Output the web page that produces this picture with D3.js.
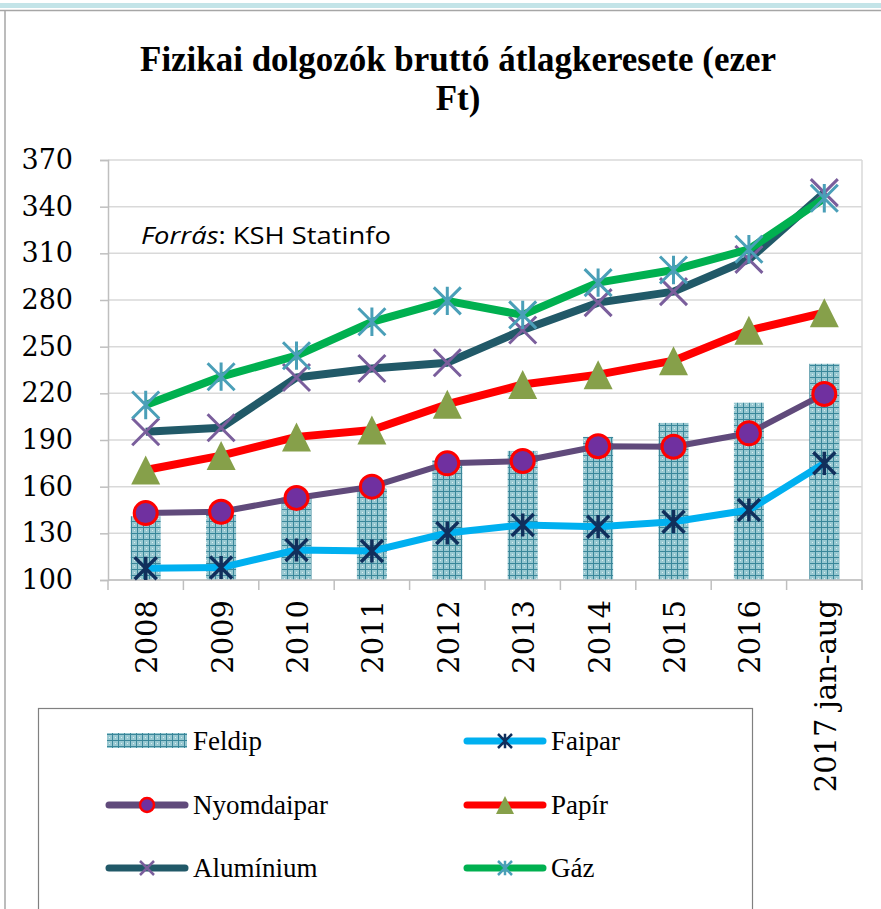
<!DOCTYPE html>
<html>
<head>
<meta charset="utf-8">
<script src="https://cdn.jsdelivr.net/npm/d3@7"></script>
<style>
  body { margin: 0; background: #fff; }
  svg { display: block; }
</style>
</head>
<body>
<script>
// chart data
const categories = ["2008", "2009", "2010", "2011", "2012", "2013", "2014", "2015", "2016", "2017 jan-aug"];
const feldip = [141, 142, 153, 159, 177, 183, 192, 201, 214, 239];
const faipar = [107.5, 108, 119.3, 118.6, 130.2, 135.4, 134.3, 137.5, 145, 175];
const nyomdaipar = [143, 143.9, 152.7, 160, 175, 176.5, 186, 185.7, 194.3, 219.6];
const papir = [170.7, 180, 192, 196.4, 213, 225.7, 232, 241, 260.5, 271.8];
const aluminium = [195.3, 197.9, 230.2, 236, 239.7, 260.7, 278.3, 285.4, 306.1, 349];
const gaz = [212.5, 230.7, 244.2, 266, 279.4, 270.4, 291.2, 299.3, 312.6, 345.4];
const yTicks = [100, 130, 160, 190, 220, 250, 280, 310, 340, 370];

const W = 881, H = 909;
const plot = { left: 108, right: 862, top: 160, bottom: 580 };

const svg = d3.select("body").append("svg")
  .attr("width", W)
  .attr("height", H);

// bar fill pattern (small grid like in excel)
const defs = svg.append("defs");
const pat = defs.append("pattern")
  .attr("id", "grid")
  .attr("width", 6)
  .attr("height", 6)
  .attr("patternUnits", "userSpaceOnUse");
pat.append("rect").attr("width", 6).attr("height", 6).attr("fill", "#98c8d1");
pat.append("rect").attr("x", 2).attr("y", 2).attr("width", 1).attr("height", 1).attr("fill", "#d8eef1");
pat.append("rect").attr("x", 0).attr("y", 5).attr("width", 6).attr("height", 1).attr("fill", "#3a879a");
pat.append("rect").attr("x", 5).attr("y", 0).attr("width", 1).attr("height", 6).attr("fill", "#3a879a");

// page frame
svg.append("rect").attr("x", 0).attr("y", 3).attr("width", W).attr("height", 5).attr("fill", "#c3e4e8");
svg.append("line").attr("x1", 0).attr("x2", W).attr("y1", 10.5).attr("y2", 10.5)
  .attr("stroke", "#a6a6a6").attr("stroke-width", 1.5);
svg.append("line").attr("x1", 5).attr("x2", 5).attr("y1", 10).attr("y2", H)
  .attr("stroke", "#a6a6a6").attr("stroke-width", 1.5);

const x = d3.scaleBand()
  .domain(categories)
  .range([plot.left, plot.right]);
const y = d3.scaleLinear()
  .domain([100, 370])
  .range([plot.bottom, plot.top]);
const cx = d => x(d) + x.bandwidth() / 2;

// title, squeezed horizontally like the reference
const title = svg.append("g").attr("transform", "translate(458,0)");
const t1 = title.append("text")
  .attr("y", 71)
  .attr("text-anchor", "middle")
  .attr("font-family", "Liberation Serif")
  .attr("font-weight", "bold")
  .attr("font-size", 35)
  .text("Fizikai dolgozók bruttó átlagkeresete (ezer");
title.append("text")
  .attr("y", 110)
  .attr("text-anchor", "middle")
  .attr("font-family", "Liberation Serif")
  .attr("font-weight", "bold")
  .attr("font-size", 35)
  .text("Ft)");
const sx = 636 / t1.node().getComputedTextLength();
title.attr("transform", `translate(458,0) scale(${sx},1)`);

// gridlines
svg.append("g")
  .selectAll("line")
  .data(yTicks)
  .join("line")
  .attr("x1", plot.left)
  .attr("x2", plot.right)
  .attr("y1", d => y(d))
  .attr("y2", d => y(d))
  .attr("stroke", "#d9d9d9")
  .attr("stroke-width", 1.5);

// y axis
const yAxis = svg.append("g")
  .attr("transform", `translate(${plot.left},0)`)
  .call(d3.axisLeft(y).tickValues(yTicks).tickSize(8).tickPadding(27));
yAxis.select(".domain").attr("stroke", "#bfbfbf").attr("stroke-width", 1.5);
yAxis.selectAll(".tick line").attr("stroke", "#bfbfbf").attr("stroke-width", 1.5);
yAxis.selectAll(".tick text")
  .attr("font-family", "DejaVu Serif")
  .attr("font-size", 27)
  .attr("fill", "#000");

// right edge of plot
svg.append("line")
  .attr("x1", plot.right).attr("x2", plot.right)
  .attr("y1", plot.top).attr("y2", plot.bottom + 10)
  .attr("stroke", "#d9d9d9").attr("stroke-width", 1.5);

// bars
svg.append("g")
  .selectAll("rect")
  .data(feldip)
  .join("rect")
  .attr("x", (d, i) => cx(categories[i]) - 15)
  .attr("width", 30)
  .attr("y", d => y(d))
  .attr("height", d => y(100) - y(d))
  .attr("fill", "url(#grid)");

// x axis: line, ticks between categories, rotated labels
const xAxis = svg.append("g");
xAxis.append("line")
  .attr("x1", plot.left).attr("x2", plot.right)
  .attr("y1", plot.bottom).attr("y2", plot.bottom)
  .attr("stroke", "#bfbfbf").attr("stroke-width", 1.5);
xAxis.selectAll(".xtick")
  .data(categories.concat([null]))
  .join("line")
  .attr("class", "xtick")
  .attr("x1", (d, i) => plot.left + i * x.step())
  .attr("x2", (d, i) => plot.left + i * x.step())
  .attr("y1", plot.bottom)
  .attr("y2", plot.bottom + 10)
  .attr("stroke", "#bfbfbf").attr("stroke-width", 1.5);
xAxis.selectAll("text")
  .data(categories)
  .join("text")
  .attr("transform", d => `translate(${cx(d) + 1},${plot.bottom + 20}) rotate(-90)`)
  .attr("text-anchor", "end")
  .attr("dy", "0.36em")
  .attr("font-family", "DejaVu Serif")
  .attr("font-size", 29)
  .text(d => d);

// source note
const src = svg.append("text")
  .attr("x", 141)
  .attr("y", 244)
  .attr("font-family", "Open Sans")
  .attr("font-size", 24)
  .attr("textLength", 250)
  .attr("lengthAdjust", "spacingAndGlyphs");
src.append("tspan").attr("font-style", "italic").text("Forrás");
src.append("tspan").text(": KSH Statinfo");

// marker helpers
function drawMarker(g, type, size, color, sw) {
  const h = size / 2;
  if (type === "circle") {
    g.append("circle").attr("r", h).attr("fill", "#7030a0")
      .attr("stroke", "#ff0000").attr("stroke-width", sw);
  } else if (type === "triangle") {
    g.append("path")
      .attr("d", `M0,${-h}L${h},${h}L${-h},${h}Z`)
      .attr("fill", color);
  } else if (type === "x") {
    g.append("path")
      .attr("d", `M${-h},${-h}L${h},${h}M${h},${-h}L${-h},${h}`)
      .attr("stroke", color).attr("stroke-width", sw);
  } else if (type === "star") {
    g.append("path")
      .attr("d", `M${-h},${-h}L${h},${h}M${h},${-h}L${-h},${h}M0,${-h * 1.05}L0,${h * 1.05}`)
      .attr("stroke", color).attr("stroke-width", sw);
  }
}

const series = [
  { name: "Faipar", values: faipar, line: "#00b0f0", lw: 7, marker: "star", mc: "#112f5c", ms: 22, msw: 3.5 },
  { name: "Nyomdaipar", values: nyomdaipar, line: "#604a7b", lw: 6, marker: "circle", mc: "#7030a0", ms: 23, msw: 3 },
  { name: "Papír", values: papir, line: "#ff0000", lw: 8, marker: "triangle", mc: "#86a04a", ms: 29, msw: 0 },
  { name: "Alumínium", values: aluminium, line: "#215968", lw: 8, marker: "x", mc: "#7a5e9c", ms: 27, msw: 3 },
  { name: "Gáz", values: gaz, line: "#00b050", lw: 8, marker: "star", mc: "#4a9fb8", ms: 27, msw: 3 }
];

const line = d3.line()
  .x((d, i) => cx(categories[i]))
  .y(d => y(d));

series.forEach(s => {
  const g = svg.append("g").attr("class", "series");
  g.append("path")
    .attr("d", line(s.values))
    .attr("fill", "none")
    .attr("stroke", s.line)
    .attr("stroke-width", s.lw)
    .attr("stroke-linejoin", "round");
  s.values.forEach((v, i) => {
    const m = g.append("g").attr("transform", `translate(${cx(categories[i])},${y(v)})`);
    drawMarker(m, s.marker, s.ms, s.mc, s.msw);
  });
});

// legend
const legend = svg.append("g");
legend.append("rect")
  .attr("x", 38.5).attr("y", 708.5)
  .attr("width", 714).attr("height", 240)
  .attr("fill", "none")
  .attr("stroke", "#808080")
  .attr("stroke-width", 1.2);

const legendItems = [
  { name: "Feldip", col: 0, row: 0, bar: true },
  { name: "Faipar", col: 1, row: 0, s: series[0] },
  { name: "Nyomdaipar", col: 0, row: 1, s: series[1] },
  { name: "Papír", col: 1, row: 1, s: series[2] },
  { name: "Alumínium", col: 0, row: 2, s: series[3] },
  { name: "Gáz", col: 1, row: 2, s: series[4] }
];
const colX = [107, 465];
const rowY = [741, 805, 868];

legendItems.forEach(it => {
  const g = legend.append("g")
    .attr("transform", `translate(${colX[it.col]},${rowY[it.row]})`);
  if (it.bar) {
    g.append("rect").attr("x", 0).attr("y", -8).attr("width", 80).attr("height", 15)
      .attr("fill", "url(#grid)");
  } else {
    g.append("line").attr("x1", 2).attr("x2", 78).attr("y1", 0).attr("y2", 0)
      .attr("stroke", it.s.line).attr("stroke-width", 7).attr("stroke-linecap", "round");
    const m = g.append("g").attr("transform", "translate(40,0)");
    drawMarker(m, it.s.marker, it.s.marker === "triangle" ? 18 : 14, it.s.mc, it.s.msw === 0 ? 0 : 2.5);
  }
  g.append("text")
    .attr("x", 86)
    .attr("dy", "0.35em")
    .attr("font-family", "Liberation Serif")
    .attr("font-size", 27)
    .text(it.name);
});
</script>
</body>
</html>
